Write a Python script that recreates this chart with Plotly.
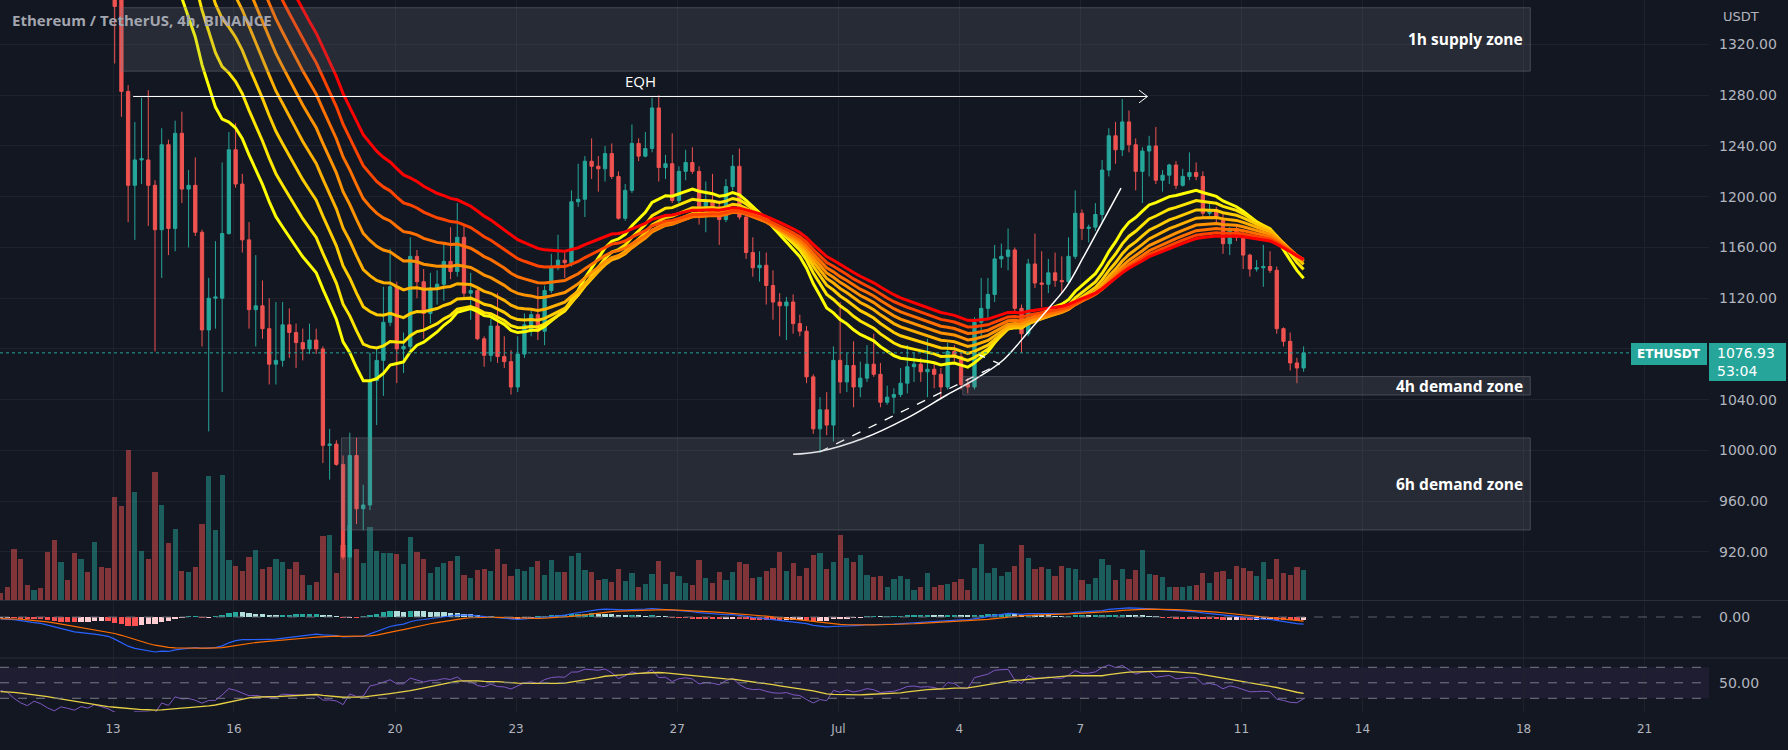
import pandas as pd
import numpy as np
import plotly.graph_objects as go

# ---------------- data ----------------
# 4h closes before the first drawn bar (only used to warm up the indicators)
warmup_close = [1805, 1800, 1795, 1810, 1805, 1805, 1815, 1860, 1890, 1870, 1860, 1858,
                1840, 1810, 1795, 1805, 1820, 1815, 1810, 1800, 1790, 1785, 1795, 1792,
                1790, 1795, 1788, 1780, 1792, 1790]

first_bar = "2022-06-10 05:00"

opens = [1795, 1788, 1782, 1755, 1725, 1700, 1712, 1690, 1640, 1585, 1600, 1575, 1535, 1550, 1520, 1535, 1495, 1460,
         1375, 1283, 1209, 1229, 1229, 1209, 1174, 1241, 1175, 1250, 1206, 1209, 1172, 1095, 1120, 1120, 1171, 1237,
         1210, 1166, 1111, 1114, 1096, 1068, 1071, 1099, 1093, 1085, 1080, 1087, 1080, 1004, 1005, 989, 916, 996,
         954, 957, 1055, 1071, 1101, 1129, 1080, 1082, 1153, 1133, 1108, 1128, 1131, 1149, 1141, 1168, 1124, 1126,
         1088, 1075, 1098, 1074, 1070, 1050, 1076, 1094, 1107, 1094, 1126, 1144, 1150, 1148, 1196, 1198, 1228, 1224,
         1222, 1234, 1216, 1183, 1205, 1242, 1232, 1238, 1270, 1223, 1226, 1197, 1220, 1227, 1220, 1187, 1196, 1192,
         1182, 1208, 1224, 1184, 1156, 1144, 1146, 1130, 1117, 1114, 1117, 1100, 1094, 1058, 1017, 1032, 1020, 1071,
         1054, 1067, 1050, 1057, 1068, 1060, 1038, 1042, 1044, 1053, 1066, 1068, 1062, 1064, 1060, 1050, 1078, 1074,
         1052, 1050, 1101, 1112, 1123, 1151, 1153, 1158, 1112, 1092, 1147, 1132, 1131, 1140, 1134, 1133, 1153, 1187,
         1175, 1176, 1186, 1221, 1248, 1237, 1259, 1241, 1220, 1236, 1240, 1213, 1217, 1225, 1209, 1216, 1219, 1216,
         1187, 1190, 1183, 1163, 1175, 1168, 1154, 1143, 1144, 1145, 1142, 1096, 1086, 1069, 1065]
highs = [1805, 1796, 1790, 1762, 1735, 1722, 1718, 1695, 1648, 1612, 1606, 1580, 1560, 1556, 1545, 1540, 1502, 1468,
         1380, 1288, 1259, 1278, 1284, 1213, 1254, 1245, 1260, 1267, 1221, 1231, 1174, 1136, 1165, 1227, 1251, 1258,
         1218, 1180, 1154, 1134, 1120, 1117, 1117, 1112, 1100, 1096, 1100, 1096, 1082, 1017, 1008, 996, 1014, 1010,
         973, 1077, 1080, 1129, 1159, 1133, 1093, 1168, 1158, 1143, 1140, 1142, 1164, 1176, 1195, 1178, 1140, 1129,
         1090, 1104, 1124, 1090, 1079, 1090, 1108, 1110, 1129, 1130, 1155, 1170, 1157, 1205, 1226, 1232, 1246, 1232,
         1240, 1242, 1220, 1210, 1257, 1246, 1251, 1278, 1280, 1233, 1250, 1224, 1237, 1239, 1224, 1212, 1218, 1197,
         1214, 1233, 1238, 1186, 1168, 1157, 1156, 1142, 1124, 1121, 1123, 1107, 1098, 1060, 1042, 1046, 1082, 1117,
         1077, 1086, 1070, 1083, 1092, 1069, 1051, 1049, 1065, 1083, 1077, 1073, 1088, 1069, 1065, 1085, 1083, 1079,
         1057, 1105, 1136, 1136, 1162, 1163, 1175, 1160, 1115, 1151, 1171, 1157, 1151, 1156, 1153, 1168, 1205, 1190,
         1178, 1195, 1229, 1254, 1259, 1277, 1268, 1246, 1239, 1248, 1255, 1221, 1226, 1228, 1222, 1235, 1227, 1220,
         1196, 1192, 1187, 1176, 1178, 1174, 1155, 1150, 1162, 1157, 1145, 1097, 1093, 1073, 1082]
lows = [1780, 1775, 1745, 1715, 1690, 1695, 1680, 1630, 1570, 1578, 1565, 1525, 1528, 1512, 1510, 1488, 1450, 1305,
        1263, 1180, 1166, 1210, 1177, 1078, 1136, 1154, 1157, 1195, 1160, 1169, 1082, 1015, 1096, 1046, 1170, 1207,
        1156, 1096, 1082, 1088, 1052, 1052, 1066, 1073, 1065, 1071, 1076, 1076, 990, 977, 988, 914, 881, 942,
        937, 953, 1020, 1043, 1098, 1053, 1061, 1079, 1120, 1088, 1100, 1115, 1118, 1135, 1137, 1120, 1103, 1087,
        1066, 1070, 1069, 1065, 1044, 1046, 1073, 1090, 1087, 1083, 1124, 1142, 1136, 1145, 1192, 1184, 1214, 1204,
        1212, 1214, 1182, 1181, 1203, 1228, 1231, 1235, 1212, 1214, 1195, 1195, 1213, 1218, 1178, 1172, 1188, 1162,
        1180, 1205, 1182, 1151, 1137, 1133, 1115, 1103, 1090, 1087, 1092, 1090, 1053, 1013, 998, 1012, 1007, 1045,
        1046, 1034, 1042, 1054, 1058, 1034, 1036, 1029, 1042, 1045, 1054, 1054, 1042, 1049, 1041, 1048, 1070, 1048,
        1045, 1048, 1090, 1103, 1117, 1144, 1142, 1109, 1077, 1090, 1128, 1113, 1124, 1129, 1124, 1132, 1151, 1166,
        1164, 1173, 1180, 1216, 1226, 1232, 1235, 1205, 1195, 1216, 1210, 1204, 1210, 1206, 1208, 1213, 1213, 1183,
        1185, 1180, 1155, 1154, 1165, 1143, 1137, 1141, 1129, 1140, 1092, 1082, 1063, 1053, 1062]
closes = [1788, 1782, 1755, 1725, 1700, 1712, 1690, 1640, 1585, 1600, 1575, 1535, 1550, 1520, 1535, 1495, 1460, 1350,
          1283, 1209, 1229, 1230, 1209, 1174, 1241, 1175, 1250, 1206, 1209, 1172, 1095, 1120, 1121, 1171, 1237, 1210,
          1166, 1111, 1114, 1096, 1068, 1071, 1099, 1093, 1085, 1080, 1087, 1080, 1004, 1005, 989, 916, 996, 954,
          957, 1055, 1071, 1101, 1129, 1080, 1082, 1153, 1133, 1108, 1128, 1131, 1149, 1141, 1168, 1124, 1126, 1088,
          1075, 1098, 1074, 1070, 1050, 1076, 1099, 1107, 1094, 1126, 1144, 1150, 1148, 1196, 1198, 1228, 1224, 1222,
          1234, 1216, 1183, 1205, 1242, 1232, 1238, 1270, 1223, 1226, 1197, 1220, 1227, 1220, 1187, 1196, 1192, 1182,
          1208, 1224, 1184, 1156, 1144, 1146, 1130, 1117, 1114, 1117, 1100, 1094, 1058, 1017, 1032, 1020, 1071, 1054,
          1067, 1050, 1057, 1068, 1060, 1038, 1042, 1044, 1053, 1066, 1068, 1062, 1064, 1060, 1050, 1078, 1074, 1052,
          1050, 1101, 1112, 1123, 1151, 1153, 1158, 1112, 1092, 1147, 1132, 1131, 1140, 1134, 1133, 1153, 1187, 1175,
          1176, 1186, 1221, 1248, 1237, 1259, 1241, 1220, 1236, 1240, 1213, 1217, 1225, 1209, 1216, 1219, 1216, 1187,
          1190, 1183, 1163, 1175, 1168, 1154, 1143, 1144, 1145, 1142, 1096, 1086, 1069, 1065, 1076.93]
volumes = [37, 67, 255, 205, 75, 50, 58, 242, 300, 192, 100, 237, 205, 140, 290, 165, 160, 515,
           470, 750, 540, 245, 205, 640, 475, 285, 355, 145,
           140, 165, 380, 620, 350, 625, 200, 170, 145, 215,
           250, 155, 165, 205, 190, 155, 190, 125, 75, 90,
           320, 325, 135, 275, 375, 255, 185, 365, 245, 235,
           235, 230, 180, 315, 240, 205, 135, 165, 185, 195,
           220, 125, 110, 150, 155, 145, 255, 180, 120, 155,
           145, 165, 195, 125, 200, 140, 140, 220, 235, 150,
           140, 100, 105, 90, 155, 95, 135, 65, 80, 130,
           195, 80, 140, 120, 85, 75, 200, 110, 85, 140,
           100, 140, 190, 180, 110, 115, 145, 160, 240, 145,
           185, 120, 160, 225, 235, 155, 190, 325, 210, 190,
           225, 125, 115, 120, 65, 105, 120, 105, 50, 65,
           135, 65, 75, 80, 90, 105, 50, 160, 280, 135,
           160, 120, 140, 170, 275, 210, 155, 165, 155, 120,
           170, 160, 155, 100, 80, 110, 205, 175, 100, 155,
           105, 150, 250, 130, 125, 115, 65, 65, 65, 70,
           75, 135, 85, 140, 145, 105, 170, 160, 145, 120,
           190, 105, 205, 135, 125, 165, 150]

ribbon_lengths = [20, 25, 30, 35, 40, 45, 50, 55]
ribbon_colors = ["#ffff00", "#ffe600", "#ffcc00", "#ffb000", "#ff9200", "#ff7000", "#ff4400", "#ff0000"]

tick_dates = ["2022-06-13", "2022-06-16", "2022-06-20", "2022-06-23", "2022-06-27", "2022-07-01",
              "2022-07-04", "2022-07-07", "2022-07-11", "2022-07-14", "2022-07-18", "2022-07-21"]
tick_labels = ["13", "16", "20", "23", "27", "Jul", "4", "7", "11", "14", "18", "21"]
price_ticks = [920, 960, 1000, 1040, 1080, 1120, 1160, 1200, 1240, 1280, 1320]
hidden_price_ticks = [1080]  # covered by the last-price label on the axis

# drawings (time, price anchors)
zones = [  # x0, x1, y0, y1, label
    ("2022-06-13 05:00", "2022-07-18 04:00", 1299, 1349, "1h supply zone"),
    ("2022-07-04 02:00", "2022-07-18 04:00", 1043.7, 1058.2, "4h demand zone"),
    ("2022-06-18 16:00", "2022-07-18 04:00", 937.3, 1009.9, "6h demand zone"),
]
eqh_start, eqh_end, eqh_price = "2022-06-13 12:00", "2022-07-08 16:00", 1279
curve_t = ["2022-06-29 21:00", "2022-06-30 12:00", "2022-07-01 15:00", "2022-07-02 16:30", "2022-07-03 16:30",
           "2022-07-04 10:20", "2022-07-05 02:10", "2022-07-05 18:00", "2022-07-06 06:00", "2022-07-06 15:50",
           "2022-07-07 02:00", "2022-07-07 11:45", "2022-07-08 00:15"]
curve_p = [997, 999, 1009.6, 1025.3, 1043.7, 1056.9, 1071.3, 1095, 1113.3, 1129.1, 1152.7, 1176.4, 1206.7]
dash_t = ["2022-06-30 13:00", "2022-07-05 00:00", "2022-07-04 12:00"]
dash_p = [999, 1068.2, 1075.2]

# ---------------- indicators ----------------
times = pd.date_range(first_bar, periods=len(closes), freq="4h")
nw = len(warmup_close)
allc = pd.Series(warmup_close + closes, dtype=float)
emas = {n: allc.ewm(span=n, adjust=False).mean().iloc[nw:].values for n in ribbon_lengths}

ema12 = allc.ewm(span=12, adjust=False).mean()
ema26 = allc.ewm(span=26, adjust=False).mean()
macd = ema12 - ema26
signal = macd.ewm(span=9, adjust=False).mean()
hist = macd - signal
macd_v, signal_v, hist_v = macd.iloc[nw:].values, signal.iloc[nw:].values, hist.iloc[nw:].values
hist_prev = hist.shift(1).iloc[nw:].values
hist_cols = []
for h, hp in zip(hist_v, hist_prev):
    if h >= 0:
        hist_cols.append("#26a69a" if h >= hp else "#b2dfdb")
    else:
        hist_cols.append("#ffcdd2" if h >= hp else "#ff5252")

delta = allc.diff()
up = delta.clip(lower=0).ewm(alpha=1 / 14, adjust=False).mean()
dn = (-delta.clip(upper=0)).ewm(alpha=1 / 14, adjust=False).mean()
rsi = 100 - 100 / (1 + up / dn)
rsi_ma = rsi.rolling(14).mean()
rsi_v, rsi_ma_v = rsi.iloc[nw:].values, rsi_ma.iloc[nw:].values

# ---------------- figure ----------------
BG = "#131722"
GRID = "#1e222d"
TXT = "#b2b5be"
UP, DOWN = "#26a69a", "#ef5350"
H = 712.0  # plot area height in px


def py(px):
    return (H - px) / H


fig = go.Figure()

vol_cols = ["rgba(38,166,154,0.5)" if c >= o else "rgba(239,83,80,0.5)" for o, c in zip(opens, closes)]
fig.add_trace(go.Bar(x=times, y=volumes, marker=dict(color=vol_cols, line=dict(width=0)),
                     width=4 * 3600 * 1000 * 0.78, yaxis="y2", xaxis="x", showlegend=False))

for n, col in zip(ribbon_lengths, ribbon_colors):
    fig.add_trace(go.Scatter(x=times, y=emas[n], mode="lines", line=dict(color=col, width=3),
                             yaxis="y", showlegend=False))

fig.add_trace(go.Candlestick(x=times, open=opens, high=highs, low=lows, close=closes,
                             increasing=dict(line=dict(color=UP, width=1), fillcolor=UP),
                             decreasing=dict(line=dict(color=DOWN, width=1), fillcolor=DOWN),
                             whiskerwidth=0, yaxis="y", showlegend=False))

# drawings
fig.add_trace(go.Scatter(x=[eqh_start, eqh_end], y=[eqh_price, eqh_price], mode="lines",
                         line=dict(color="white", width=1), showlegend=False))
arrow_back = pd.Timestamp(eqh_end) - pd.Timedelta(hours=5)
fig.add_trace(go.Scatter(x=[arrow_back, eqh_end, arrow_back], y=[eqh_price + 5, eqh_price, eqh_price - 5],
                         mode="lines", line=dict(color="white", width=1), showlegend=False))
fig.add_trace(go.Scatter(x=curve_t, y=curve_p, mode="lines", line=dict(color="white", width=1.5, shape="spline"),
                         showlegend=False))
fig.add_trace(go.Scatter(x=dash_t, y=dash_p, mode="lines", line=dict(color="white", width=1.3, dash="dash"),
                         showlegend=False))

# MACD pane
fig.add_trace(go.Bar(x=times, y=hist_v, marker=dict(color=hist_cols, line=dict(width=0)),
                     width=4 * 3600 * 1000 * 0.8, yaxis="y3", showlegend=False))
fig.add_trace(go.Scatter(x=times, y=macd_v, mode="lines", line=dict(color="#2962ff", width=1.2),
                         yaxis="y3", showlegend=False))
fig.add_trace(go.Scatter(x=times, y=signal_v, mode="lines", line=dict(color="#ff6d00", width=1.2),
                         yaxis="y3", showlegend=False))

# RSI pane
fig.add_trace(go.Scatter(x=times, y=rsi_v, mode="lines", line=dict(color="#7e57c2", width=1),
                         yaxis="y4", showlegend=False))
fig.add_trace(go.Scatter(x=times, y=rsi_ma_v, mode="lines", line=dict(color="#e6d145", width=1.3),
                         yaxis="y4", showlegend=False))

mvals = np.concatenate([macd_v, signal_v])
mmin = float(np.nanmin(mvals))
s = 35.0 / abs(mmin)
macd_range = [-41.0 / s, 16.0 / s]

x_range = ["2022-06-10 04:42", "2022-07-22 14:24"]

shapes = []
for x0, x1, y0, y1, _ in zones:
    shapes.append(dict(type="rect", xref="x", yref="y", x0=x0, x1=x1, y0=y0, y1=y1,
                       fillcolor="rgba(120,123,134,0.2)", line=dict(color="rgba(120,123,134,0.45)", width=1),
                       layer="above"))
# last price dotted line
shapes.append(dict(type="line", xref="paper", yref="y", x0=0, x1=1, y0=closes[-1], y1=closes[-1],
                   line=dict(color=UP, width=1, dash="dot")))
# pane separators
for ypx in (600.5, 658):
    shapes.append(dict(type="line", xref="paper", yref="paper", x0=0, x1=1.05, y0=py(ypx), y1=py(ypx),
                       line=dict(color="#2a2e39", width=1)))
# MACD zero dashed
shapes.append(dict(type="line", xref="paper", yref="y3", x0=0, x1=1, y0=0, y1=0,
                   line=dict(color="#5d606b", width=1, dash="dash")))
# RSI band and levels
shapes.append(dict(type="rect", xref="paper", yref="y4", x0=0, x1=1, y0=30, y1=70,
                   fillcolor="rgba(126,87,194,0.1)", line=dict(width=0), layer="below"))
for lv in (30, 50, 70):
    shapes.append(dict(type="line", xref="paper", yref="y4", x0=0, x1=1, y0=lv, y1=lv,
                       line=dict(color="#787b86", width=1, dash="dash")))
# last price labels
shapes.append(dict(type="rect", xref="paper", yref="paper", x0=1631 / 1709, x1=1707 / 1709,
                   y0=py(365), y1=py(343), fillcolor=UP, line=dict(width=0)))
shapes.append(dict(type="rect", xref="paper", yref="paper", x0=1709 / 1709, x1=1786 / 1709,
                   y0=py(381), y1=py(343), fillcolor=UP, line=dict(width=0)))

ann = []
for x0, x1, y0, y1, label in zones:
    ann.append(dict(x=pd.Timestamp(x1) - pd.Timedelta(hours=3), y=(y0 + y1) / 2, xref="x", yref="y",
                    text=label, showarrow=False, xanchor="right", yanchor="middle",
                    font=dict(family="Open Sans", size=15.5, color="white", weight="bold")))
ann.append(dict(x="2022-06-26 02:00", y=1291, xref="x", yref="y", text="EQH", showarrow=False,
                font=dict(family="Open Sans", size=15, color="white")))
ann.append(dict(x=10 / 1709, y=py(20), xref="paper", yref="paper", text="Ethereum / TetherUS, 4h, BINANCE",
                showarrow=False, xanchor="left", yanchor="middle",
                font=dict(family="Open Sans", size=15, color="#a3a6af", weight="bold")))
ann.append(dict(x=1721 / 1709, y=py(17), xref="paper", yref="paper", text="USDT", showarrow=False,
                xanchor="left", yanchor="middle", font=dict(family="DejaVu Sans", size=13, color=TXT)))
ann.append(dict(x=1669 / 1709, y=py(354), xref="paper", yref="paper", text="<b>ETHUSDT</b>", showarrow=False,
                xanchor="center", yanchor="middle", font=dict(family="DejaVu Sans", size=12, color="white")))
ann.append(dict(x=1715 / 1709, y=py(353), xref="paper", yref="paper", text=f"{closes[-1]:.2f}", showarrow=False,
                xanchor="left", yanchor="middle", font=dict(family="DejaVu Sans", size=14, color="white")))
ann.append(dict(x=1715 / 1709, y=py(371), xref="paper", yref="paper", text="53:04", showarrow=False,
                xanchor="left", yanchor="middle", font=dict(family="DejaVu Sans", size=14, color="white")))

axis_font = dict(family="DejaVu Sans", size=12, color=TXT)
price_font = dict(family="DejaVu Sans", size=14, color=TXT)
fig.update_layout(
    width=1788, height=750,
    margin=dict(l=0, r=79, t=0, b=38),
    paper_bgcolor=BG, plot_bgcolor=BG,
    showlegend=False, bargap=0, barmode="overlay",
    hovermode=False,
    xaxis=dict(domain=[0, 1], anchor="y4", range=x_range, type="date",
               tickvals=tick_dates, ticktext=tick_labels, tickfont=axis_font,
               showgrid=True, gridcolor=GRID, gridwidth=1, ticks="", ticklabelstandoff=8,
               showline=False, zeroline=False, rangeslider=dict(visible=False)),
    yaxis=dict(domain=[py(600), 1], range=[882.1, 1355.08], side="right",
               tickvals=price_ticks,
               ticktext=["" if v in hidden_price_ticks else f"{v:.2f}" for v in price_ticks],
               tickfont=price_font,
               showgrid=True, gridcolor=GRID, zeroline=False, showline=False, ticks="",
               ticklabelstandoff=9),
    yaxis2=dict(overlaying="y", range=[0, 3000], visible=False),
    yaxis3=dict(domain=[py(658), py(601)], range=macd_range, side="right", anchor="x",
                tickvals=[0], ticktext=["0.00"], tickfont=price_font, showgrid=False,
                zeroline=False, showline=False, ticks="", ticklabelstandoff=9),
    yaxis4=dict(domain=[0, py(658)], range=[12.3, 82], side="right", anchor="x",
                tickvals=[50], ticktext=["50.00"], tickfont=price_font, showgrid=False,
                zeroline=False, showline=False, ticks="", ticklabelstandoff=9),
    shapes=shapes, annotations=ann,
)

fig.write_html("out.html", config={"displayModeBar": False})
